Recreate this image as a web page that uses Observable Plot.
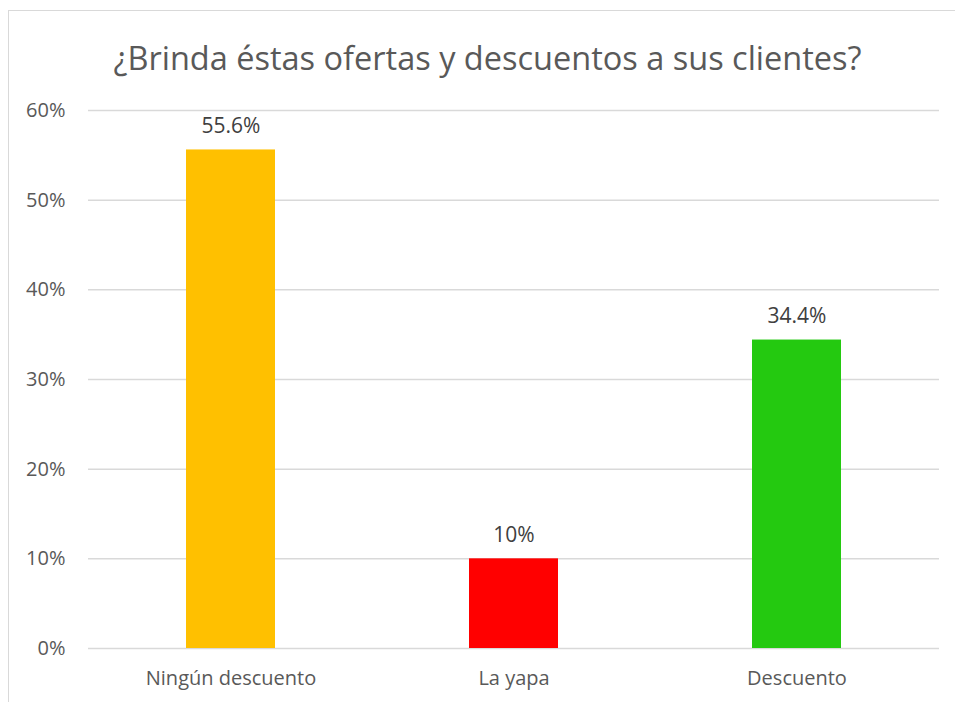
<!DOCTYPE html>
<html><head><meta charset="utf-8">
<script src="https://cdn.jsdelivr.net/npm/d3@7"></script>
<script src="https://cdn.jsdelivr.net/npm/@observablehq/plot@0.6"></script>
<style>
html,body{margin:0;padding:0;background:#fff;overflow:hidden;width:955px;height:702px}
#wrap{position:relative;width:955px;height:702px;overflow:hidden}
#frame{position:absolute;left:8px;top:10px;width:1000px;height:800px;border:1.5px solid #d9d9d9;box-sizing:border-box}
#title{position:absolute;left:8px;width:959px;top:38px;text-align:center;font-family:"Open Sans";font-size:32.5px;line-height:1.2;color:#595959;white-space:nowrap}
#chart{position:absolute;left:0;top:0}
</style></head>
<body><div id="wrap"><div id="frame"></div><div id="title">¿Brinda éstas ofertas y descuentos a sus clientes?</div><div id="chart"></div></div>
<script>
const categories = ["Ningún descuento", "La yapa", "Descuento"];
const values = [0.556, 0.10, 0.344];
const labels = ["55.6%", "10%", "34.4%"];
const colors = ["#FFC000", "#FF0000", "#24C910"];
const yTicks = [0, 0.1, 0.2, 0.3, 0.4, 0.5, 0.6];

const data = categories.map((c, i) => ({category: c, value: values[i], label: labels[i]}));

const chart = Plot.plot({
  width: 955, height: 702,
  marginLeft: 88, marginRight: 16, marginTop: 110, marginBottom: 54,
  style: {fontFamily: "Open Sans", fontSize: "20px", color: "#595959", background: "transparent", overflow: "visible"},
  x: {domain: categories, padding: 0, label: null, tickSize: 0, tickPadding: 22},
  y: {domain: [0, 0.6], ticks: yTicks, tickFormat: d => Math.round(d * 100) + "%", label: null, tickSize: 0, tickPadding: 23},
  color: {domain: categories, range: colors},
  marks: [
    Plot.ruleY(yTicks, {stroke: "#d9d9d9", strokeWidth: 1.5}),
    Plot.barY(data, {x: "category", y: "value", fill: "category", insetLeft: 97, insetRight: 97}),
    Plot.text(data, {x: "category", y: "value", text: "label", dy: -24, fill: "#404040", fontSize: 21})
  ]
});
document.getElementById("chart").appendChild(chart);
</script>
</body></html>
